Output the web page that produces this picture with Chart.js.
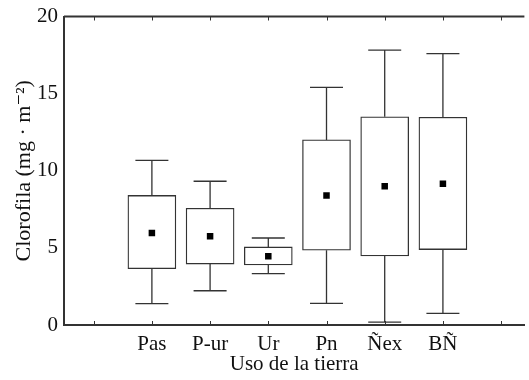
<!DOCTYPE html>
<html>
<head>
<meta charset="utf-8">
<script src="https://cdn.jsdelivr.net/npm/chart.js@4"></script>
<style>
  html, body { margin: 0; padding: 0; background: #fff; }
  #wrap { width: 529px; height: 380px; }
</style>
</head>
<body>
<div id="wrap"><canvas id="chart" width="529" height="380"></canvas></div>
<script>
// land use categories and box statistics (Clorofila, mg·m-2)
const categories = ['Pas', 'P-ur', 'Ur', 'Pn', 'Ñex', 'BÑ'];
const q1 = [3.65, 3.95, 3.89, 4.85, 4.48, 4.89];
const q3 = [8.40, 7.57, 5.06, 12.0, 13.5, 13.47];
const whiskerLow = [1.38, 2.22, 3.33, 1.40, 0.18, 0.76];
const whiskerHigh = [10.67, 9.32, 5.64, 15.4, 17.82, 17.59];
const means = [5.96, 5.75, 4.46, 8.40, 9.0, 9.15];
const yTicks = [0, 5, 10, 15, 20];

const serif = '"Liberation Serif", "DejaVu Serif", serif';
const lineColor = '#333';

const whiskerPlugin = {
    id: 'whiskers',
    beforeDatasetsDraw(chart) {
        const ctx = chart.ctx;
        const x = chart.scales.x;
        const y = chart.scales.y;
        const capHalf = 16.5;
        ctx.save();
        ctx.strokeStyle = lineColor;
        ctx.lineWidth = 1.3;
        categories.forEach((c, i) => {
            const px = x.getPixelForValue(i + 1);
            ctx.beginPath();
            ctx.moveTo(px, y.getPixelForValue(q3[i]));
            ctx.lineTo(px, y.getPixelForValue(whiskerHigh[i]));
            ctx.moveTo(px, y.getPixelForValue(q1[i]));
            ctx.lineTo(px, y.getPixelForValue(whiskerLow[i]));
            ctx.moveTo(px - capHalf, y.getPixelForValue(whiskerHigh[i]));
            ctx.lineTo(px + capHalf, y.getPixelForValue(whiskerHigh[i]));
            ctx.moveTo(px - capHalf, y.getPixelForValue(whiskerLow[i]));
            ctx.lineTo(px + capHalf, y.getPixelForValue(whiskerLow[i]));
            ctx.stroke();
        });
        ctx.restore();
    },
    afterDraw(chart) {
        // frame top line and small inward ticks on top/bottom
        const ctx = chart.ctx;
        const area = chart.chartArea;
        const x = chart.scales.x;
        ctx.save();
        ctx.strokeStyle = lineColor;
        ctx.lineWidth = 2;
        ctx.beginPath();
        ctx.moveTo(area.left, area.top);
        ctx.lineTo(area.right, area.top);
        ctx.stroke();
        ctx.lineWidth = 1;
        x.ticks.forEach(t => {
            const px = Math.round(x.getPixelForValue(t.value)) + 0.5;
            ctx.beginPath();
            ctx.moveTo(px, area.top);
            ctx.lineTo(px, area.top + 4);
            ctx.moveTo(px, area.bottom);
            ctx.lineTo(px, area.bottom - 4);
            ctx.stroke();
        });
        ctx.restore();
    }
};

new Chart(document.getElementById('chart'), {
    type: 'bar',
    data: {
        datasets: [{
            type: 'bar',
            data: categories.map((c, i) => ({ x: i + 1, y: [q1[i], q3[i]] })),
            backgroundColor: '#fff',
            borderColor: lineColor,
            borderWidth: 1.3,
            borderSkipped: false,
            barThickness: 48,
            order: 2
        }, {
            type: 'scatter',
            data: categories.map((c, i) => ({ x: i + 1, y: means[i] })),
            pointStyle: 'rect',
            pointRadius: 4.6,
            backgroundColor: '#000',
            borderColor: '#000',
            borderWidth: 0,
            order: 1
        }]
    },
    options: {
        responsive: false,
        animation: false,
        layout: { padding: { top: 14, right: 0, left: 0, bottom: 0 } },
        plugins: { legend: { display: false }, tooltip: { enabled: false } },
        scales: {
            x: {
                type: 'linear',
                offset: false,
                min: -0.51,
                max: 7.4,
                grid: { display: false, drawTicks: false, offset: false },
                border: { color: lineColor, width: 2 },
                ticks: {
                    stepSize: 1,
                    includeBounds: false,
                    autoSkip: false,
                    maxRotation: 0,
                    padding: 7,
                    color: '#111',
                    font: { family: serif, size: 21 },
                    callback: v => categories[v - 1] || ''
                },
                title: {
                    display: true,
                    text: 'Uso de la tierra',
                    color: '#111',
                    font: { family: serif, size: 21 },
                    padding: { top: 0, bottom: 3 }
                },
                afterFit: s => { s.height = 55; }
            },
            y: {
                min: 0,
                max: 20,
                grid: { display: false, drawTicks: false },
                border: { color: lineColor, width: 2 },
                afterBuildTicks: s => { s.ticks = yTicks.map(v => ({ value: v })); },
                ticks: {
                    padding: 6,
                    color: '#111',
                    font: { family: serif, size: 21, lineHeight: 1 }
                },
                title: {
                    display: true,
                    text: 'Clorofila (mg · m⁻²)',
                    color: '#111',
                    font: { family: serif, size: 22 },
                    padding: { top: 11, bottom: 0 }
                },
                afterFit: s => { s.width = 64; }
            }
        }
    },
    plugins: [whiskerPlugin]
});
</script>
</body>
</html>
